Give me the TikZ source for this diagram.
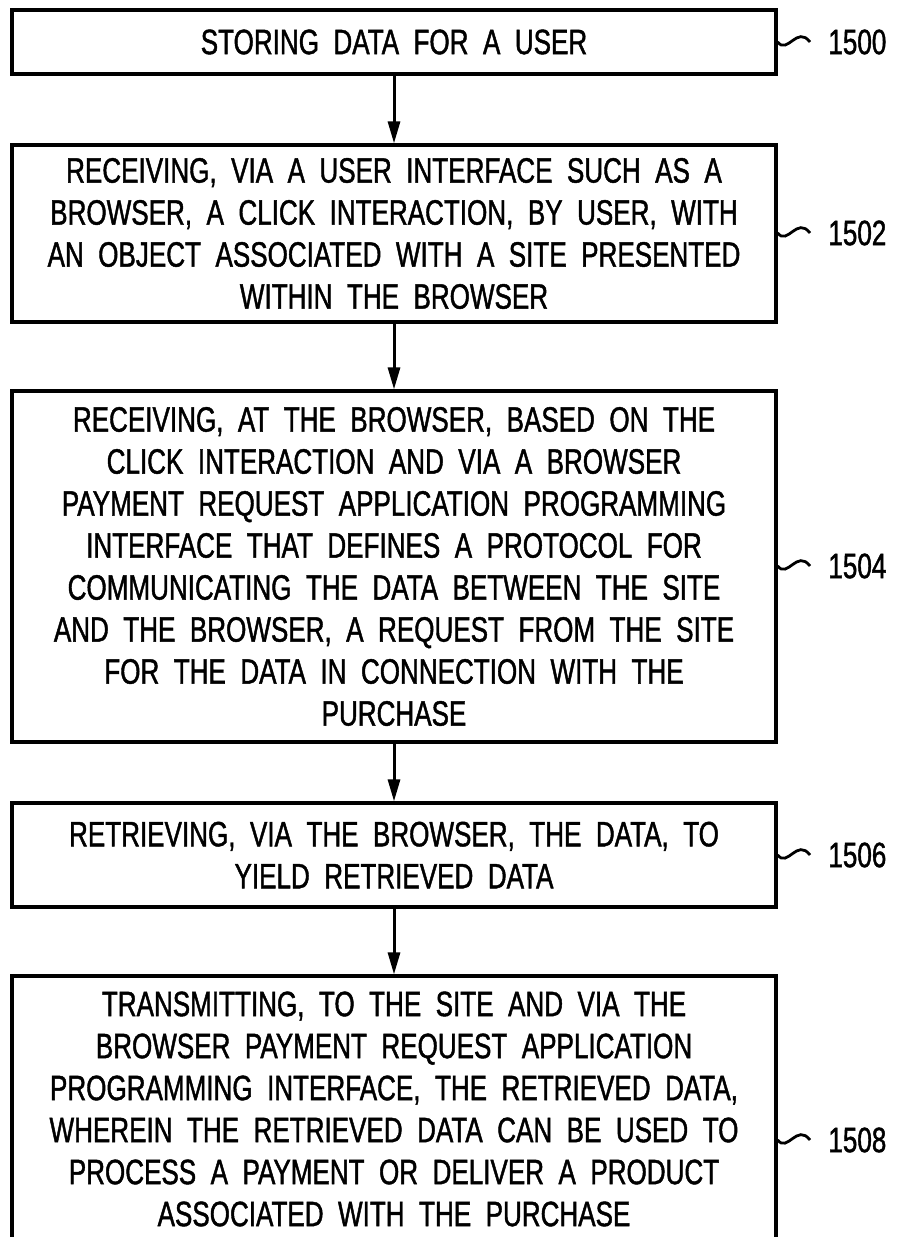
\documentclass[tikz,border=0pt]{standalone}
\usepackage{fontspec}
\setmainfont[FakeStretch=0.74,WordSpace=2,FakeBold=1.2]{Liberation Sans}
\usetikzlibrary{arrows.meta}

\begin{document}
\begin{tikzpicture}[x=0.5pt, y=-0.5pt,
    every node/.style={font=\fontsize{17.6}{21}\selectfont},
    stepbox/.style={draw, line width=1.6pt, minimum width=382pt, inner sep=0pt, align=center},
    flow/.style={line width=1.5pt, -{Triangle[length=11pt, width=6pt]}},
    tilde/.style={line width=1.4pt},
    refnum/.style={anchor=west, inner sep=0pt}]
   % Page frame (always first!)
   \useasboundingbox (0,0) rectangle (896,1237);

    % Steps
    \node[stepbox, minimum height=32pt] (b1) at (394,42) {STORING DATA FOR A USER};
    \node[stepbox, minimum height=88.5pt] (b2) at (394,233.5) {RECEIVING, VIA A USER INTERFACE SUCH AS A\\ BROWSER, A CLICK INTERACTION, BY USER, WITH\\ AN OBJECT ASSOCIATED WITH A SITE PRESENTED\\ WITHIN THE BROWSER};
    \node[stepbox, minimum height=175.5pt] (b3) at (394,566.5) {RECEIVING, AT THE BROWSER, BASED ON THE\\ CLICK INTERACTION AND VIA A BROWSER\\ PAYMENT REQUEST APPLICATION PROGRAMMING\\ INTERFACE THAT DEFINES A PROTOCOL FOR\\ COMMUNICATING THE DATA BETWEEN THE SITE\\ AND THE BROWSER, A REQUEST FROM THE SITE\\ FOR THE DATA IN CONNECTION WITH THE\\ PURCHASE};
    \node[stepbox, minimum height=52pt] (b4) at (394,855) {RETRIEVING, VIA THE BROWSER, THE DATA, TO\\ YIELD RETRIEVED DATA};
    \node[stepbox, minimum height=133pt] (b5) at (394,1109) {TRANSMITTING, TO THE SITE AND VIA THE\\ BROWSER PAYMENT REQUEST APPLICATION\\ PROGRAMMING INTERFACE, THE RETRIEVED DATA,\\ WHEREIN THE RETRIEVED DATA CAN BE USED TO\\ PROCESS A PAYMENT OR DELIVER A PRODUCT\\ ASSOCIATED WITH THE PURCHASE};

    % Flow
    \draw[flow] (b1) -- (b2);
    \draw[flow] (b2) -- (b3);
    \draw[flow] (b3) -- (b4);
    \draw[flow] (b4) -- (b5);

    % Reference numerals
    \node[refnum] (l1) at (828,42) {1500};
    \node[refnum] (l2) at (828,233) {1502};
    \node[refnum] (l3) at (828,566) {1504};
    \node[refnum] (l4) at (828,855) {1506};
    \node[refnum] (l5) at (828,1140) {1508};
    \foreach \b/\l in {b1/l1, b2/l2, b3/l3, b4/l4, b5/l5}
      \draw[tilde] (\b.east |- \l.west) .. controls +(10,13) and +(-13,-17) .. ([xshift=-9pt]\l.west);
\end{tikzpicture}
\end{document}
